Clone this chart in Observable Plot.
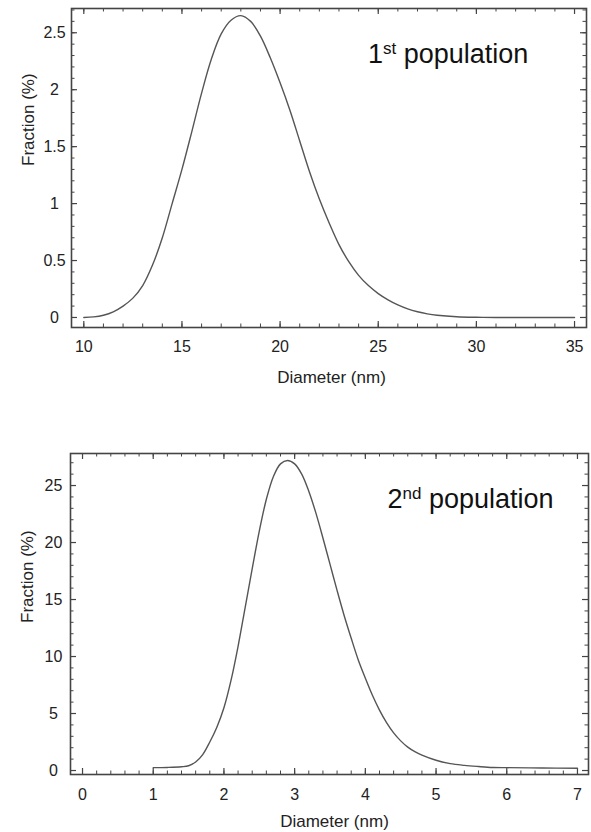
<!DOCTYPE html>
<html><head><meta charset="utf-8">
<script src="https://cdn.jsdelivr.net/npm/d3@7"></script>
<script src="https://cdn.jsdelivr.net/npm/@observablehq/plot@0.6"></script>
<style>
body{margin:0;background:#fff;font-family:"Liberation Sans",Arial,sans-serif}
svg{display:block}
</style>
</head><body><div id="chart"></div>
<script>
// ---- 1st population ----
const diam1 = [10,10.5,11,11.5,12,12.5,13,13.5,14,14.5,15,15.5,16,16.5,17,17.5,18,18.5,19,19.5,20,20.5,21,21.5,22,22.5,23,23.5,24,24.5,25,25.5,26,26.5,27,27.5,28,29,30,31,33,35];
const frac1 = [0,0.005,0.02,0.05,0.10,0.17,0.28,0.46,0.70,1.0,1.3,1.63,1.97,2.27,2.49,2.61,2.65,2.60,2.47,2.28,2.06,1.82,1.55,1.28,1.04,0.83,0.64,0.49,0.37,0.28,0.21,0.155,0.11,0.075,0.05,0.032,0.02,0.007,0.002,0,0,0];
// ---- 2nd population ----
const diam2 = [1.0,1.2,1.4,1.5,1.6,1.7,1.8,1.9,2.0,2.1,2.2,2.3,2.4,2.5,2.6,2.7,2.8,2.9,3.0,3.1,3.2,3.3,3.4,3.5,3.6,3.7,3.8,3.9,4.0,4.1,4.2,4.3,4.4,4.5,4.6,4.7,4.8,5.0,5.2,5.4,5.6,5.8,6.0,6.5,7.0];
const frac2 = [0.25,0.27,0.33,0.42,0.75,1.4,2.5,3.8,5.5,7.9,10.9,14.3,17.7,21.0,23.8,25.8,26.9,27.2,26.9,26.0,24.5,22.6,20.4,18.1,15.8,13.6,11.6,9.7,8.1,6.6,5.3,4.2,3.3,2.6,2.05,1.65,1.35,0.9,0.6,0.45,0.35,0.27,0.25,0.22,0.2];

// tick values
const xMajor1 = [10,15,20,25,30,35];
const xMinor1 = d3.range(10,36,1);
const yMajor1 = [0,0.5,1,1.5,2,2.5];
const yMinor1 = d3.range(0,28).map(i => i/10);
const xMajor2 = [0,1,2,3,4,5,6,7];
const xMinor2 = d3.range(0,36).map(i => i/5);
const yMajor2 = [0,5,10,15,20,25];
const yMinor2 = d3.range(0,28);

const xTitle = "Diameter (nm)";
const yTitle = "Fraction (%)";

const INK = "#444";
const fmt = d => `${d}`;

function panel(cfg) {
  const {width, height, mt, mb, ml, mr, xDom, yDom, xs, ys, xMaj, xMin, yMaj, yMin, yTitleDy, xTitleDx, xTitleDy, xPad} = cfg;
  const H = height - mt - mb, W = width - ml - mr;
  const data = xs.map((x, i) => ({x, y: ys[i]}));
  const svg = Plot.plot({
    width, height, marginTop: mt, marginBottom: mb, marginLeft: ml, marginRight: mr,
    style: {fontFamily: "'Liberation Sans', Arial, sans-serif", fontSize: "16px", color: "#222", background: "#fff"},
    x: {domain: xDom},
    y: {domain: yDom},
    marks: [
      Plot.axisX(xMaj, {tickSize: 0, tickPadding: xPad, tickFormat: fmt, label: null, fontSize: 16}),
      Plot.axisY(yMaj, {tickSize: 0, tickPadding: 17, tickFormat: fmt, textAnchor: "middle", label: null, fontSize: 16}),
      // inward ticks: bottom & top
      Plot.tickX(xMaj, {x: d => d, insetTop: H - 6, stroke: INK, strokeWidth: 1.2}),
      Plot.tickX(xMaj, {x: d => d, insetBottom: H - 6, stroke: INK, strokeWidth: 1.2}),
      Plot.tickX(xMin, {x: d => d, insetTop: H - 3.5, stroke: INK, strokeWidth: 1}),
      Plot.tickX(xMin, {x: d => d, insetBottom: H - 3.5, stroke: INK, strokeWidth: 1}),
      // inward ticks: left & right
      Plot.tickY(yMaj, {y: d => d, insetRight: W - 6, stroke: INK, strokeWidth: 1.2}),
      Plot.tickY(yMaj, {y: d => d, insetLeft: W - 6, stroke: INK, strokeWidth: 1.2}),
      Plot.tickY(yMin, {y: d => d, insetRight: W - 3.5, stroke: INK, strokeWidth: 1}),
      Plot.tickY(yMin, {y: d => d, insetLeft: W - 3.5, stroke: INK, strokeWidth: 1}),
      Plot.frame({stroke: INK, strokeWidth: 1.6}),
      Plot.line(data, {x: "x", y: "y", curve: "catmull-rom", stroke: "#555", strokeWidth: 1.4}),
      Plot.text([xTitle], {frameAnchor: "bottom", dx: xTitleDx, dy: xTitleDy, lineAnchor: "bottom", fontSize: 17, fill: "#222"}),
      Plot.text([yTitle], {frameAnchor: "left", rotate: -90, dx: -38, dy: yTitleDy, lineAnchor: "bottom", fontSize: 17, fill: "#222"})
    ]
  });
  return svg;
}

function annotate(svg, num, sup, ax, ay) {
  const x = svg.scale("x").apply(ax), y = svg.scale("y").apply(ay);
  const t = d3.select(svg).append("text")
    .attr("x", x).attr("y", y)
    .attr("text-anchor", "start")
    .attr("font-family", "'Liberation Sans', Arial, sans-serif")
    .attr("font-size", 27).attr("fill", "#111");
  t.append("tspan").text(num);
  t.append("tspan").attr("font-size", 17).attr("dy", -9).text(sup);
  t.append("tspan").attr("dy", 9).text(" population");
}

const chart = document.getElementById("chart");
const s1 = panel({width: 591, height: 400, mt: 8, mb: 73, ml: 71, mr: 5,
  xDom: [9.373, 35.61], yDom: [-0.088, 2.713], xs: diam1, ys: frac1,
  xMaj: xMajor1, xMin: xMinor1, yMaj: yMajor1, yMin: yMinor1,
  yTitleDy: -2, xTitleDx: 2.5, xTitleDy: 55, xPad: 13});
annotate(s1, "1", "st", 24.5, 2.23);
chart.appendChild(s1);

const s2 = panel({width: 591, height: 432, mt: 53, mb: 58, ml: 70, mr: 3,
  xDom: [-0.17, 7.156], yDom: [-0.35, 27.81], xs: diam2, ys: frac2,
  xMaj: xMajor2, xMin: xMinor2, yMaj: yMajor2, yMin: yMinor2,
  yTitleDy: 9, xTitleDx: 5, xTitleDy: 52, xPad: 14});
annotate(s2, "2", "nd", 4.32, 23.0);
chart.appendChild(s2);
</script>
</body></html>
